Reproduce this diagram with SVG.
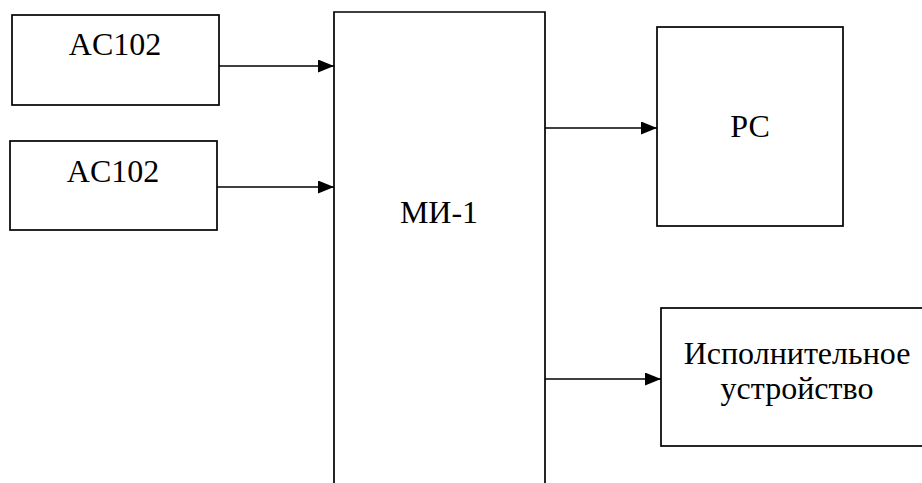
<svg xmlns="http://www.w3.org/2000/svg" width="922" height="483" viewBox="0 0 922 483">
<style>
.box{fill:#fff;stroke:#000;stroke-width:1.7}
.c{stroke:#000;stroke-width:1.7;fill:none;marker-end:url(#ah)}
text{font-family:"Liberation Serif","Times New Roman",serif;font-size:32px;fill:#000;text-anchor:middle}
</style>
<defs>
<marker id="ah" markerUnits="userSpaceOnUse" markerWidth="17" markerHeight="13" refX="16" refY="6.5" orient="auto">
<path d="M0,0 L16,6.5 L0,13 Z" fill="#000"/>
</marker>
</defs>
<rect width="922" height="483" fill="#fff"/>
<g id="ac102a"><rect class="box" x="12" y="15" width="207" height="90"/><text x="115" y="55">AC102</text></g>
<g id="ac102b"><rect class="box" x="10" y="141" width="207" height="89"/><text x="113" y="182">AC102</text></g>
<g id="mi1"><path class="box" d="M334,490 L334,12 L545,12 L545,490"/><text x="439" y="223">МИ-1</text></g>
<g id="pc"><rect class="box" x="657" y="27" width="186" height="199"/><text x="750" y="137">РС</text></g>
<g id="exec"><rect class="box" x="661" y="308" width="270" height="138"/><text x="797" y="364">Исполнительное</text><text x="797" y="399">устройство</text></g>
<g id="connectors">
<line class="c" x1="219" y1="66" x2="334" y2="66"/>
<line class="c" x1="217" y1="187" x2="334" y2="187"/>
<line class="c" x1="545" y1="128" x2="657" y2="128"/>
<line class="c" x1="545" y1="379" x2="661" y2="379"/>
</g>
</svg>
